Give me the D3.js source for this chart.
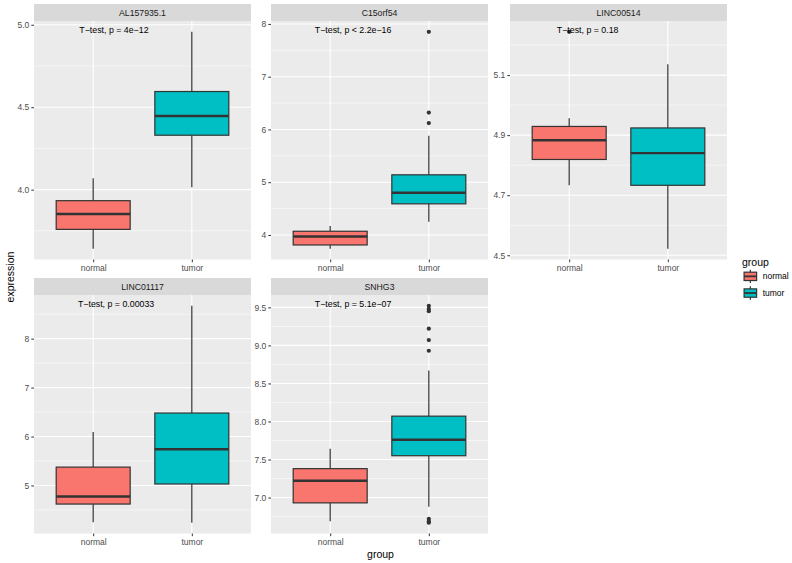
<!DOCTYPE html>
<html>
<head>
<meta charset="utf-8">
<script src="https://cdn.jsdelivr.net/npm/d3@7"></script>
<style>
  body { margin: 0; background: #fff; }
  text { font-family: "Liberation Sans", Arial, sans-serif; }
</style>
</head>
<body>
<svg id="chart" width="792" height="563"></svg>
<script>
// facet genes, groups and the p-value labels
var genes = ["AL157935.1", "C15orf54", "LINC00514", "LINC01117", "SNHG3"];
var groups = ["normal", "tumor"];
var pLabels = ["T\u2212test, p = 4e\u221212", "T\u2212test, p < 2.2e\u221216", "T\u2212test, p = 0.18",
               "T\u2212test, p = 0.00033", "T\u2212test, p = 5.1e\u221207"];

// box stats per gene: [lower whisker, Q1, median, Q3, upper whisker]
var normalStats = [
  [3.642, 3.759, 3.852, 3.933, 4.069],
  [3.74, 3.81, 3.97, 4.07, 4.17],
  [4.733, 4.819, 4.883, 4.929, 4.956],
  [4.25, 4.62, 4.775, 5.375, 6.09],
  [6.69, 6.93, 7.22, 7.38, 7.64]
];
var tumorStats = [
  [4.014, 4.33, 4.447, 4.595, 4.957],
  [4.25, 4.59, 4.80, 5.14, 5.88],
  [4.522, 4.733, 4.84, 4.924, 5.136],
  [4.24, 5.03, 5.74, 6.48, 8.67],
  [6.88, 7.55, 7.76, 8.07, 8.67]
];
var normalOutliers = [[], [], [5.244], [], []];
var tumorOutliers = [[], [6.12, 6.32, 7.85], [], [], [6.67, 6.69, 6.72, 8.93, 9.07, 9.22, 9.45, 9.48, 9.52]];

// y tick labels per facet
var yTicks = [
  [4.0, 4.5, 5.0],
  [4, 5, 6, 7, 8],
  [4.5, 4.7, 4.9, 5.1],
  [5, 6, 7, 8],
  [7.0, 7.5, 8.0, 8.5, 9.0, 9.5]
];

var colors = { normal: "#F8766D", tumor: "#00BFC4" };

var svg = d3.select("#chart");

var colLeft = [34, 271, 510], panelW = 217;
var rowTop = [4, 278], stripH = 17, panelH = 238.5;

genes.forEach(function (gene, i) {
  var col = i % 3, row = Math.floor(i / 3);
  var left = colLeft[col], top = rowTop[row] + stripH, bottom = top + panelH;

  var stats = { normal: normalStats[i], tumor: tumorStats[i] };
  var outs = { normal: normalOutliers[i], tumor: tumorOutliers[i] };
  var all = normalStats[i].concat(tumorStats[i], normalOutliers[i], tumorOutliers[i]);
  var lo = d3.min(all), hi = d3.max(all), pad = (hi - lo) * 0.05;

  var y = d3.scaleLinear().domain([lo - pad, hi + pad]).range([bottom, top]);
  var x = d3.scalePoint().domain(groups).range([left, left + panelW]).padding(0.6);
  var bw = x.step() * 0.75;

  var g = svg.append("g");

  // strip
  g.append("rect").attr("x", left).attr("y", rowTop[row]).attr("width", panelW).attr("height", stripH)
    .attr("fill", "#D9D9D9");
  g.append("text").attr("x", left + panelW / 2).attr("y", rowTop[row] + stripH / 2 + 3)
    .attr("text-anchor", "middle").attr("font-size", 8.7).attr("fill", "#1A1A1A").text(gene);

  // panel background
  g.append("rect").attr("x", left).attr("y", top).attr("width", panelW).attr("height", panelH)
    .attr("fill", "#EBEBEB");

  // minor grid (midpoints between ticks, extended one step beyond)
  var t = yTicks[i], step = t[1] - t[0];
  var minor = [];
  for (var k = -1; k < t.length; k++) minor.push(t[0] + step * (k + 0.5));
  var dom = y.domain();
  minor.filter(function (v) { return v > dom[0] && v < dom[1]; }).forEach(function (v) {
    g.append("line").attr("x1", left).attr("x2", left + panelW).attr("y1", y(v)).attr("y2", y(v))
      .attr("stroke", "#fff").attr("stroke-width", 0.55);
  });
  t.forEach(function (v) {
    g.append("line").attr("x1", left).attr("x2", left + panelW).attr("y1", y(v)).attr("y2", y(v))
      .attr("stroke", "#fff").attr("stroke-width", 1.1);
  });
  groups.forEach(function (gr) {
    g.append("line").attr("x1", x(gr)).attr("x2", x(gr)).attr("y1", top).attr("y2", bottom)
      .attr("stroke", "#fff").attr("stroke-width", 1.1);
  });

  // boxes
  groups.forEach(function (gr) {
    var s = stats[gr], cx = x(gr);
    g.append("line").attr("x1", cx).attr("x2", cx).attr("y1", y(s[0])).attr("y2", y(s[1]))
      .attr("stroke", "#333333").attr("stroke-width", 1.2);
    g.append("line").attr("x1", cx).attr("x2", cx).attr("y1", y(s[3])).attr("y2", y(s[4]))
      .attr("stroke", "#333333").attr("stroke-width", 1.2);
    g.append("rect").attr("x", cx - bw / 2).attr("y", y(s[3])).attr("width", bw)
      .attr("height", y(s[1]) - y(s[3]))
      .attr("fill", colors[gr]).attr("stroke", "#333333").attr("stroke-width", 1.2);
    g.append("line").attr("x1", cx - bw / 2).attr("x2", cx + bw / 2).attr("y1", y(s[2])).attr("y2", y(s[2]))
      .attr("stroke", "#333333").attr("stroke-width", 2.4);
    g.selectAll(null).data(outs[gr]).enter().append("circle")
      .attr("cx", cx).attr("cy", function (d) { return y(d); }).attr("r", 2.1)
      .attr("fill", "#333333");
  });

  // p-value label (hjust ~0.2 at first group, just above the max)
  var label = g.append("text").attr("x", x(groups[0])).attr("y", y(hi) + 1.5)
    .attr("font-size", 8.8).attr("fill", "#000").text(pLabels[i]);
  var lw = label.node().getComputedTextLength();
  label.attr("x", x(groups[0]) - lw * 0.2);

  // y axis
  var allInt = t.every(function (v) { return Number.isInteger(v); });
  var yAxis = d3.axisLeft(y).tickValues(t).tickSize(2.7).tickPadding(2)
    .tickFormat(d3.format(allInt ? "d" : ".1f"));
  var ya = g.append("g").attr("transform", "translate(" + left + ",0)").call(yAxis);
  ya.select(".domain").remove();
  ya.selectAll(".tick line").attr("stroke", "#333333").attr("stroke-width", 1);
  ya.selectAll(".tick text").attr("font-size", 8.5).attr("fill", "#4D4D4D")
    .attr("font-family", "Liberation Sans, Arial, sans-serif");

  // x axis
  var xAxis = d3.axisBottom(x).tickSize(2.7).tickPadding(2.5);
  var xa = g.append("g").attr("transform", "translate(0," + bottom + ")").call(xAxis);
  xa.select(".domain").remove();
  xa.selectAll(".tick line").attr("stroke", "#333333").attr("stroke-width", 1);
  xa.selectAll(".tick text").attr("font-size", 8.5).attr("fill", "#4D4D4D")
    .attr("font-family", "Liberation Sans, Arial, sans-serif");
});

// axis titles
svg.append("text").attr("x", 380.5).attr("y", 558).attr("text-anchor", "middle")
  .attr("font-size", 10.5).attr("fill", "#000").text("group");
svg.append("text").attr("transform", "translate(13.5,277) rotate(-90)").attr("text-anchor", "middle")
  .attr("font-size", 10.5).attr("fill", "#000").text("expression");

// legend
var leg = svg.append("g").attr("transform", "translate(742,0)");
leg.append("text").attr("x", 0).attr("y", 266).attr("font-size", 10.5).attr("fill", "#000").text("group");
var keyS = 16.7;
groups.forEach(function (gr, j) {
  var ky = 268 + j * keyS;
  var kg = leg.append("g").attr("transform", "translate(0," + ky + ")");
  kg.append("line").attr("x1", keyS / 2).attr("x2", keyS / 2).attr("y1", keyS * 0.1).attr("y2", keyS * 0.9)
    .attr("stroke", "#333333").attr("stroke-width", 1.2);
  kg.append("rect").attr("x", keyS * 0.125).attr("y", keyS * 0.25).attr("width", keyS * 0.75)
    .attr("height", keyS * 0.5).attr("fill", colors[gr]).attr("stroke", "#333333").attr("stroke-width", 1.2);
  kg.append("line").attr("x1", keyS * 0.125).attr("x2", keyS * 0.875).attr("y1", keyS / 2).attr("y2", keyS / 2)
    .attr("stroke", "#333333").attr("stroke-width", 1.8);
  leg.append("text").attr("x", keyS + 4).attr("y", ky + keyS / 2 + 3).attr("font-size", 8.5)
    .attr("fill", "#000").text(gr);
});
</script>
</body>
</html>
